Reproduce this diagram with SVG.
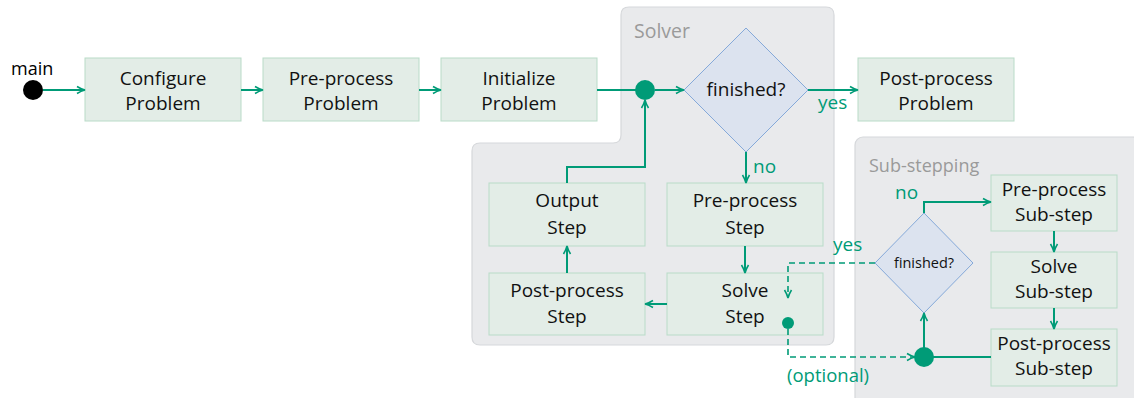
<svg xmlns="http://www.w3.org/2000/svg" width="1134" height="398" viewBox="0 0 1134 398">
<defs>
<style>
.box{fill:#e3ede7;stroke:#b9dbc8;stroke-width:1}
.dia{fill:#dce3ef;stroke:#85a9d9;stroke-width:1}
.cont{fill:#e9eaec;stroke:#d6d8db;stroke-width:1.2}
.t{font-family:"Open Sans",Lato,sans-serif;font-size:19px;fill:#111;text-anchor:middle}
.ts{font-family:"Open Sans",Lato,sans-serif;font-size:14.5px;fill:#111;text-anchor:middle}
.lbl{font-family:"Open Sans",Lato,sans-serif;font-size:19px;fill:#009b77}
.glbl{font-family:"Open Sans",Lato,sans-serif;font-size:19.5px;fill:#9a9a9a}
.c{fill:none;stroke:#009b77;stroke-width:2}
.d{fill:none;stroke:#009b77;stroke-width:1.6;stroke-dasharray:6 4}
.dot{fill:#009b77}
</style>
<marker id="ah" markerWidth="10" markerHeight="10" refX="8" refY="5" orient="auto" markerUnits="userSpaceOnUse">
<path d="M1,1.5 Q5,4 9,5 Q5,6 1,8.5" fill="none" stroke="#009b77" stroke-width="1.6"/>
</marker>
</defs>
<rect width="1134" height="398" fill="#ffffff"/>
<g id="solver">
<path class="cont" d="M629,7 H826 Q834,7 834,15 V337 Q834,345 826,345 H480 Q472,345 472,337 V151 Q472,143 480,143 H613 Q621,143 621,135 V15 Q621,7 629,7 Z"/>
<text class="glbl" x="634" y="38">Solver</text>
</g>
<g id="substepping">
<rect class="cont" x="855" y="137" width="285" height="275" rx="8"/>
<text class="glbl" x="869" y="172" style="font-size:18px">Sub-stepping</text>
</g>
<g id="start">
<circle cx="33" cy="90" r="10" fill="#000"/>
<text x="11" y="75" style="font-family:'Open Sans',Lato,sans-serif;font-size:18px;fill:#000">main</text>
</g>
<g id="configure"><rect class="box" x="85" y="58" width="156" height="63"/><text class="t" x="163" y="85">Configure</text><text class="t" x="163" y="110">Problem</text></g>
<g id="preprocess-problem"><rect class="box" x="263" y="58" width="156" height="63"/><text class="t" x="341" y="85">Pre-process</text><text class="t" x="341" y="110">Problem</text></g>
<g id="initialize"><rect class="box" x="441" y="58" width="156" height="63"/><text class="t" x="519" y="85">Initialize</text><text class="t" x="519" y="110">Problem</text></g>
<g id="junction1"><circle class="dot" cx="645" cy="90" r="10"/></g>
<g id="finished1"><polygon class="dia" points="746,28 808,90 746,152 684,90"/><text class="t" x="746" y="96">finished?</text></g>
<g id="postprocess-problem"><rect class="box" x="858" y="58" width="156" height="63"/><text class="t" x="936" y="85">Post-process</text><text class="t" x="936" y="110">Problem</text></g>
<g id="output-step"><rect class="box" x="489" y="183" width="156" height="63"/><text class="t" x="567" y="207">Output</text><text class="t" x="567" y="234">Step</text></g>
<g id="preprocess-step"><rect class="box" x="667" y="183" width="156" height="63"/><text class="t" x="745" y="207">Pre-process</text><text class="t" x="745" y="234">Step</text></g>
<g id="postprocess-step"><rect class="box" x="489" y="273" width="156" height="62"/><text class="t" x="567" y="297">Post-process</text><text class="t" x="567" y="323">Step</text></g>
<g id="solve-step"><rect class="box" x="667" y="273" width="156" height="62"/><text class="t" x="745" y="297">Solve</text><text class="t" x="745" y="323">Step</text><circle class="dot" cx="788" cy="323" r="6"/></g>
<g id="finished2"><polygon class="dia" points="924,213 973,263 924,313 875,263"/><text class="ts" x="924" y="268">finished?</text></g>
<g id="preprocess-substep"><rect class="box" x="991" y="175" width="126" height="56"/><text class="t" x="1054" y="196">Pre-process</text><text class="t" x="1054" y="221">Sub-step</text></g>
<g id="solve-substep"><rect class="box" x="991" y="252" width="126" height="56"/><text class="t" x="1054" y="273">Solve</text><text class="t" x="1054" y="298">Sub-step</text></g>
<g id="postprocess-substep"><rect class="box" x="991" y="329" width="126" height="57"/><text class="t" x="1054" y="350">Post-process</text><text class="t" x="1054" y="375">Sub-step</text></g>
<g id="junction2"><circle class="dot" cx="924" cy="357" r="10"/></g>
<g id="connectors">
<line class="c" x1="43" y1="90" x2="84" y2="90" marker-end="url(#ah)"/>
<line class="c" x1="241" y1="90" x2="262" y2="90" marker-end="url(#ah)"/>
<line class="c" x1="419" y1="90" x2="440" y2="90" marker-end="url(#ah)"/>
<line class="c" x1="597" y1="90" x2="636" y2="90"/>
<line class="c" x1="655" y1="90" x2="683" y2="90" marker-end="url(#ah)"/>
<line class="c" x1="808" y1="90" x2="857" y2="90" marker-end="url(#ah)"/>
<line class="c" x1="746" y1="152" x2="746" y2="182" marker-end="url(#ah)"/>
<polyline class="c" points="567,183 567,167 645,167 645,101" marker-end="url(#ah)"/>
<line class="c" x1="745" y1="246" x2="745" y2="272" marker-end="url(#ah)"/>
<line class="c" x1="667" y1="304" x2="646" y2="304" marker-end="url(#ah)"/>
<line class="c" x1="567" y1="273" x2="567" y2="247" marker-end="url(#ah)"/>
<polyline class="d" points="788,329 788,357 914,357" marker-end="url(#ah)"/>
<polyline class="d" points="875,263 788,263 788,297" marker-end="url(#ah)"/>
<polyline class="c" points="924,213 924,202 990,202" marker-end="url(#ah)"/>
<line class="c" x1="1054" y1="231" x2="1054" y2="251" marker-end="url(#ah)"/>
<line class="c" x1="1054" y1="308" x2="1054" y2="328" marker-end="url(#ah)"/>
<line class="c" x1="991" y1="357" x2="930" y2="357"/>
<line class="c" x1="924" y1="348" x2="924" y2="314" marker-end="url(#ah)"/>
<text class="lbl" x="818" y="109">yes</text>
<text class="lbl" x="753" y="173">no</text>
<text class="lbl" x="833" y="251">yes</text>
<text class="lbl" x="895" y="199">no</text>
<text class="lbl" x="787" y="382" style="font-size:18.5px">(optional)</text>
</g>
</svg>
